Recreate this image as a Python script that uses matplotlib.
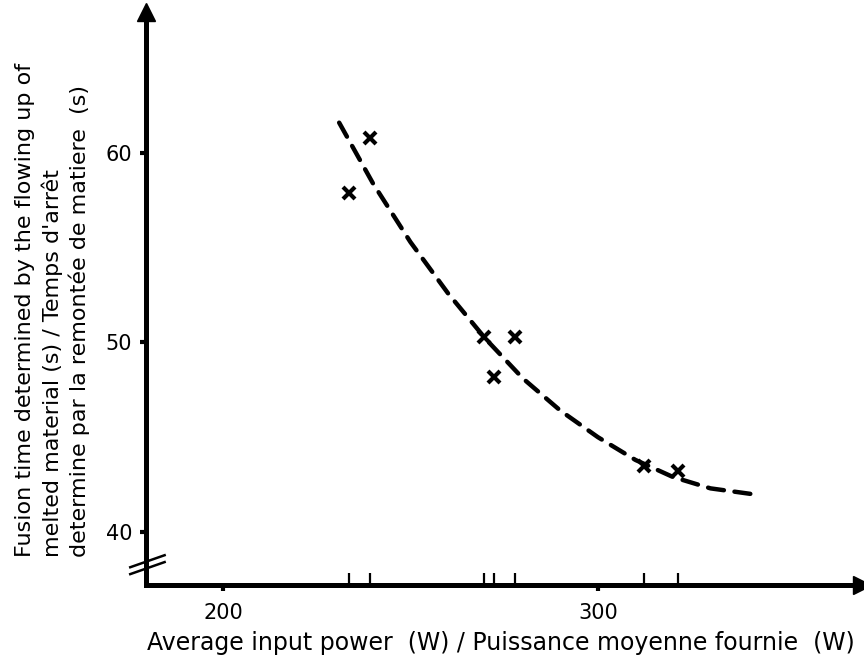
import matplotlib
matplotlib.use("Agg")
import matplotlib.pyplot as plt

plt.rcParams["font.family"] = ["DejaVu Sans"]

# measured points (average input power W, fusion time s)
power = [233.6, 239.2, 269.6, 277.9, 272.3, 312.3, 321.3]
fusion_time = [57.9, 60.8, 50.3, 50.3, 48.2, 43.5, 43.2]

# hand-drawn trend curve
curve_power = [231, 240, 250, 260, 270, 280, 290, 300, 310, 320, 330, 341]
curve_time = [61.6, 58.4, 55.3, 52.6, 50.2, 48.1, 46.4, 45.0, 43.8, 42.9, 42.3, 42.0]

xticks = [200, 300]
yticks = [40, 50, 60]

W, H = 864, 664
fig = plt.figure(figsize=(W / 100, H / 100), dpi=100)
L, R, T, B = 146, 862, 12, 585
ax = fig.add_axes([L / W, 1 - B / H, (R - L) / W, (B - T) / H])

ax.plot(curve_power, curve_time, color="black", lw=3.2, ls=(0, (3.6, 2.4)),
        dash_capstyle="round", solid_joinstyle="round")
ax.plot(power, fusion_time, "x", color="black", ms=9, mew=3)

ax.set_xlim(179.5, 370.4)
ax.set_ylim(37.2, 67.44)

for s in ["top", "right"]:
    ax.spines[s].set_visible(False)
for s in ["left", "bottom"]:
    ax.spines[s].set_linewidth(3.6)
    ax.spines[s].set_capstyle("projecting")

# arrow heads
ax.plot([0], [1], marker="^", color="black", ms=13, transform=ax.transAxes, clip_on=False)
ax.plot([1], [0], marker=">", color="black", ms=13, transform=ax.transAxes, clip_on=False)

ax.set_xticks(xticks)
ax.set_yticks(yticks)
ax.tick_params(axis="both", which="major", direction="out", length=4, width=3,
               labelsize=15, color="black")
ax.tick_params(axis="x", which="major", pad=9)
ax.tick_params(axis="y", which="major", pad=6)
# marks on the x axis under every measured point
ax.set_xticks(power, minor=True)
ax.tick_params(axis="x", which="minor", direction="in", length=9, width=1.6)

# axis break marks
for y0 in [0.019, 0.031]:
    ax.plot([-0.022, 0.026], [y0, y0 + 0.021], color="black", lw=1.8,
            transform=ax.transAxes, clip_on=False)

fig.text(501 / W, 1 - 643 / H,
         "Average input power  (W) / Puissance moyenne fournie  (W)",
         ha="center", va="center", fontsize=17)

ylab = ["Fusion time determined by the flowing up of",
        "melted material (s) / Temps d'arrêt",
        "determine par la remontée de matiere  (s)"]
for xp, txt in zip([25, 52, 79], ylab):
    fig.text(xp / W, 1 - 557 / H, txt, rotation=90, ha="center", va="bottom",
             fontsize=16)

fig.savefig("out.png", dpi=100)
